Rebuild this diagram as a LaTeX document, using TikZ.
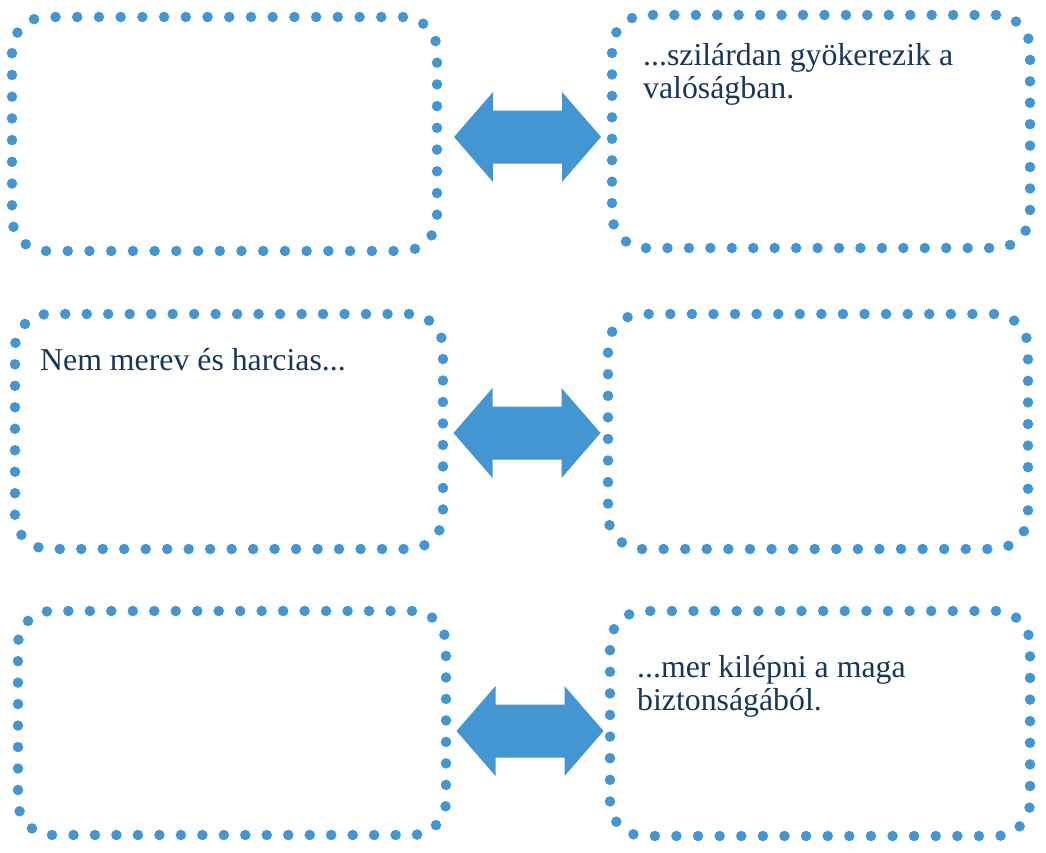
\documentclass[tikz,border=0pt]{standalone}
\usepackage{fontspec}
\setmainfont{Liberation Serif}
\definecolor{dotblue}{RGB}{68,150,210}
\definecolor{navy}{RGB}{23,54,93}
\tikzset{
  dotbox/.style={draw=dotblue, line width=10.5pt, line cap=round,
    rounded corners=34pt, inner sep=0pt},
  dotsp/.style={dash pattern=on 0pt off #1pt},
  boxtext/.style={text=navy, font=\fontsize{31.8}{33}\selectfont,
    anchor=base west, inner sep=0pt, align=left},
  dblarrow/.pic={\fill[dotblue] (-73.5,0) -- (-34.5,-45) -- (-34.5,-26.5) -- (34.5,-26.5)
    -- (34.5,-45) -- (73.5,0) -- (34.5,45) -- (34.5,26.5) -- (-34.5,26.5) -- (-34.5,45) -- cycle;}
}
\begin{document}
\begin{tikzpicture}[x=1pt,y=-1pt]
\useasboundingbox (0,0) rectangle (1046,852);
\node[dotbox, dotsp=21.718, minimum width=425pt, minimum height=234pt] (b1) at (224.5,134) {};
\node[dotbox, dotsp=21.442, minimum width=418pt, minimum height=233pt] (b2) at (821,131.5) {};
\node[dotbox, dotsp=21.485, minimum width=428pt, minimum height=235pt] (b3) at (229,431.5) {};
\node[dotbox, dotsp=21.580, minimum width=420pt, minimum height=235pt] (b4) at (818,431.5) {};
\node[dotbox, dotsp=21.476, minimum width=428pt, minimum height=224pt] (b5) at (232,723) {};
\node[dotbox, dotsp=21.608, minimum width=420pt, minimum height=225pt] (b6) at (820,723.5) {};
\pic (a1) at (527.5,137) {dblarrow};
\pic (a2) at (527,433) {dblarrow};
\pic (a3) at (530,731) {dblarrow};
\node[boxtext] (t2) at (643,98) {...szilárdan gyökerezik a\\valóságban.};
\node[boxtext] (t3) at (40,370) {Nem merev és harcias...};
\node[boxtext] (t6) at (637,710) {...mer kilépni a maga\\biztonságából.};
\end{tikzpicture}
\end{document}
